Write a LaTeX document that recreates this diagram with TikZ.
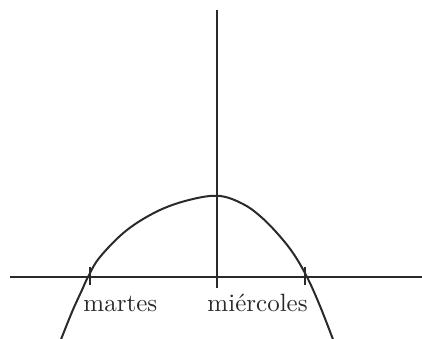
\documentclass[tikz,border=0pt]{standalone}
\usetikzlibrary{positioning}
\definecolor{axink}{HTML}{2A2A2A}
\tikzset{
  axis/.style={draw=axink, line width=0.8pt},
  curve/.style={draw=axink, line width=0.8pt},
  tick/.style={draw=axink, line width=0.8pt},
  lbl/.style={inner sep=0pt, anchor=base west, font=\normalsize, text=axink},
}
\begin{document}
\begin{tikzpicture}[x=0.4pt, y=-0.4pt]
    \useasboundingbox (0,0) rectangle (422,339);
    % axes
    \coordinate (xl) at (10,277); \coordinate (xr) at (422,277);
    \coordinate (yt) at (217,10); \coordinate (yb) at (217,288);
    \draw[axis] (xl)--(xr);
    \draw[axis] (yt)--(yb);
    % ticks
    \coordinate (ta) at (90,267); \coordinate (tb) at (90,285);
    \coordinate (tc) at (305,267); \coordinate (td) at (305,285);
    \draw[tick] (ta)--(tb); \draw[tick] (tc)--(td);
    % curve
    \draw[curve] plot[smooth, tension=0.6] coordinates {(60,342) (72,312) (82,290) (88,277) (100,257) (127,230) (160,210) (193,199) (220,196) (243,204) (260,216) (277,233) (293,253) (307,277) (320,306) (334,342)};
    % labels
    \node[lbl] (mar) at (83,312) {martes};
    \node[lbl] (mie) at (207,312) {miércoles};
  \end{tikzpicture}
\end{document}
